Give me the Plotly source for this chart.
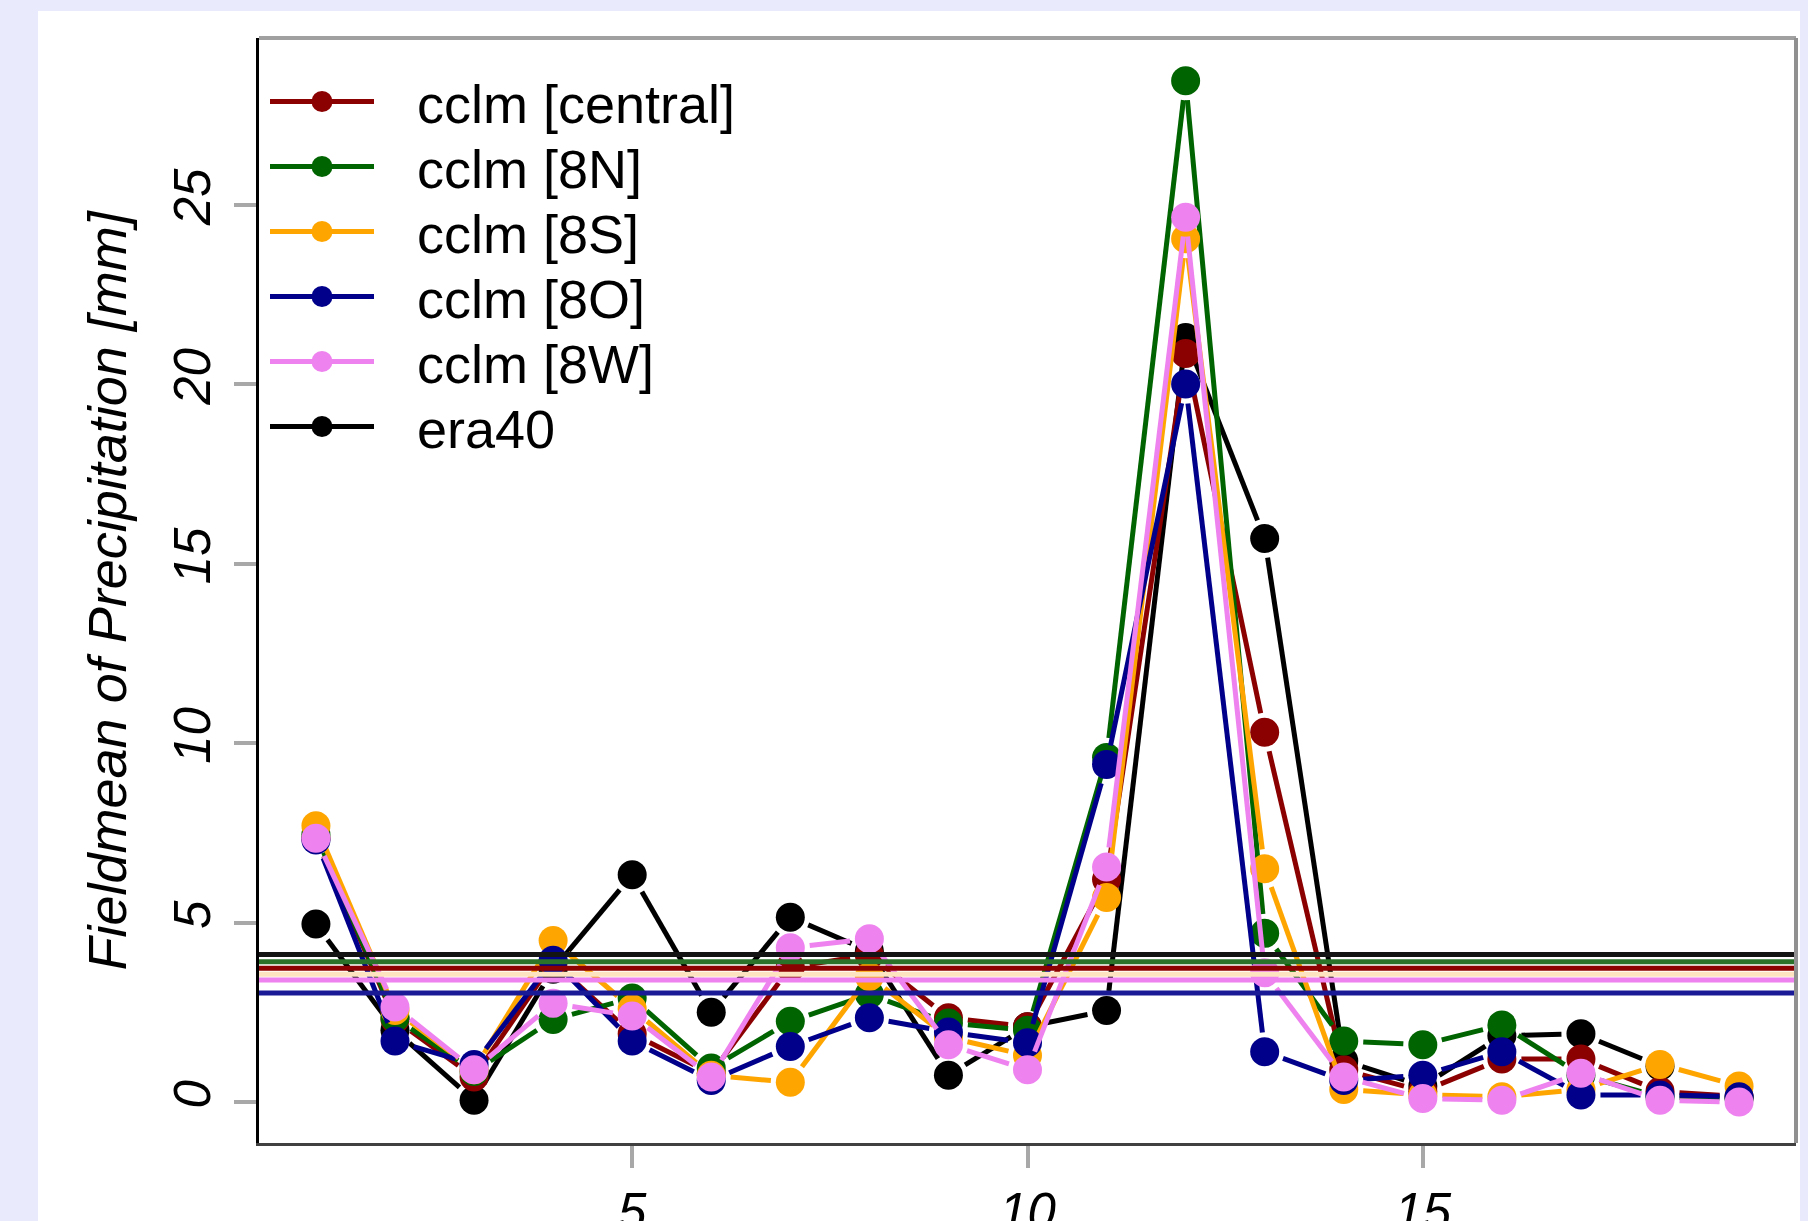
import math
import plotly.graph_objects as go

# ---------------- data ----------------
days = list(range(1, 20))
cclm_central = [7.35, 2.3, 0.7, 3.9, 1.9, 0.8, 3.75, 4.1, 2.35, 2.1, 6.2, 20.85, 10.3, 0.9, 0.3, 1.2, 1.2, 0.3, 0.15]
cclm_8N = [7.45, 2.35, 0.85, 2.3, 2.9, 0.95, 2.25, 3.0, 2.2, 2.0, 9.6, 28.45, 4.7, 1.7, 1.6, 2.15, 0.75, 0.15, 0.1]
cclm_8S = [7.7, 2.55, 0.9, 4.5, 2.6, 0.75, 0.55, 3.5, 1.8, 1.3, 5.7, 24.05, 6.5, 0.35, 0.2, 0.15, 0.35, 1.05, 0.45]
cclm_8O = [7.3, 1.7, 1.05, 3.95, 1.7, 0.6, 1.55, 2.35, 1.95, 1.65, 9.4, 20.0, 1.4, 0.6, 0.75, 1.4, 0.2, 0.2, 0.15]
cclm_8W = [7.35, 2.65, 0.9, 2.75, 2.4, 0.7, 4.3, 4.55, 1.6, 0.9, 6.55, 24.65, 3.6, 0.7, 0.1, 0.05, 0.8, 0.05, 0.0]
era40 = [4.96, 2.0, 0.05, 3.7, 6.33, 2.5, 5.15, 4.2, 0.75, 2.1, 2.55, 21.3, 15.7, 1.15, 0.45, 1.85, 1.9, 1.0]

series_names = ["cclm [central]", "cclm [8N]", "cclm [8S]", "cclm [8O]", "cclm [8W]", "era40"]
series_values = [cclm_central, cclm_8N, cclm_8S, cclm_8O, cclm_8W, era40]
series_colors = ["#8B0000", "#006400", "#FFA500", "#00008B", "#EE82EE", "#000000"]
mean_values = [3.73, 3.91, 3.56, 3.04, 3.40, 4.11]
mean_colors = ["#8B0000", "#2a722a", "#FDE3C0", "#1a1a96", "#EE82EE", "#141414"]

x_ticks = [5, 10, 15]
y_ticks = [0, 5, 10, 15, 20, 25]
y_title = "Fieldmean of Precipitation [mm]"

# ---------------- layout geometry ----------------
OFF = 8  # page body margin offset
BG = "#E9EBFC"
W, H = 1808, 1221
ML, MT = 259 - OFF, 38 - OFF
MR = W - (1796 - OFF)
MB = H - (1143 - OFF)
PW, PH = W - ML - MR, H - MT - MB
XR = [0.28, 19.72]
YR = [-1.14, 29.64]
SX = PW / (XR[1] - XR[0])
SY = PH / (YR[1] - YR[0])
GAP = 19.5  # px gap around points (R type="b")
FONT = "Liberation Sans, Arial, sans-serif"


def gapped(xs, ys, d):
    gx, gy = [], []
    for i in range(len(ys) - 1):
        x1, y1, x2, y2 = xs[i], ys[i], xs[i + 1], ys[i + 1]
        L = math.hypot((x2 - x1) * SX, (y2 - y1) * SY)
        if L <= 2 * d:
            continue
        t = d / L
        gx += [x1 + t * (x2 - x1), x2 - t * (x2 - x1), None]
        gy += [y1 + t * (y2 - y1), y2 - t * (y2 - y1), None]
    return gx, gy


fig = go.Figure()

# draw order: era40 first, then the cclm runs
order = [5, 0, 1, 2, 3, 4]
for k in order:
    vals = series_values[k]
    xs = days[:len(vals)]
    gx, gy = gapped(xs, vals, GAP)
    fig.add_trace(go.Scatter(x=gx, y=gy, mode="lines",
                             line=dict(color=series_colors[k], width=5),
                             showlegend=False, hoverinfo="skip"))
    fig.add_trace(go.Scatter(x=xs, y=vals, mode="markers",
                             marker=dict(color=series_colors[k], size=29, line=dict(width=0)),
                             name=series_names[k], showlegend=False))

# mean lines (abline h=...)
shapes = []
for k in [2, 0, 1, 3, 4, 5]:
    shapes.append(dict(type="line", xref="paper", yref="y", x0=0, x1=1,
                       y0=mean_values[k], y1=mean_values[k],
                       line=dict(color=mean_colors[k], width=5), layer="above"))

# white figure region and frame
shapes.append(dict(type="rect", xref="paper", yref="paper",
                   x0=(38 - OFF - ML) / PW, x1=1.05, y0=-0.2,
                   y1=((H - MB) - (11 - OFF)) / PH,
                   fillcolor="white", line=dict(width=0), layer="below"))
shapes.append(dict(type="line", xref="paper", yref="paper", x0=0, x1=1, y0=1, y1=1,
                   line=dict(color="#a0a0a0", width=4), layer="above"))
shapes.append(dict(type="line", xref="paper", yref="paper", x0=1, x1=1, y0=0, y1=1,
                   line=dict(color="#909090", width=4), layer="above"))

# ---------------- manual legend (R style) on a pixel overlay axis ----------------
leg_x0, leg_x1, leg_mx, leg_tx = 270 - 259, 374 - 259, 322 - 259, 415 - 259
leg_y0, leg_dy = 101.5 - 38, 65.0
annotations = []
for i in range(6):
    yy = leg_y0 + i * leg_dy
    fig.add_trace(go.Scatter(x=[leg_x0, leg_x1], y=[yy, yy], mode="lines",
                             xaxis="x2", yaxis="y2",
                             line=dict(color=series_colors[i], width=5),
                             showlegend=False, hoverinfo="skip"))
    fig.add_trace(go.Scatter(x=[leg_mx], y=[yy], mode="markers",
                             xaxis="x2", yaxis="y2",
                             marker=dict(color=series_colors[i], size=21),
                             showlegend=False, hoverinfo="skip"))
    annotations.append(dict(xref="x2", yref="y2", x=leg_tx, y=yy + 2, text=series_names[i],
                            showarrow=False, xanchor="left", yanchor="middle",
                            font=dict(family=FONT, size=54, color="black")))

annotations.append(dict(xref="paper", yref="paper", x=(106 - 259) / PW, y=0.5,
                        text=y_title, textangle=-90, showarrow=False,
                        xanchor="center", yanchor="middle",
                        font=dict(family=FONT, size=54, color="black", style="italic")))

fig.update_layout(
    width=W, height=H,
    margin=dict(l=ML, r=MR, t=MT, b=MB, pad=0, autoexpand=False),
    paper_bgcolor=BG,
    plot_bgcolor="white",
    showlegend=False,
    shapes=shapes,
    annotations=annotations,
    xaxis=dict(range=XR, tickmode="array", tickvals=x_ticks, ticktext=[str(v) for v in x_ticks],
               ticks="outside", ticklen=22, tickwidth=4, tickcolor="#a8a8a8",
               showline=True, linecolor="#404040", linewidth=3, automargin=False,
               showgrid=False, zeroline=False, ticklabelstandoff=0,
               tickfont=dict(family=FONT, size=51, color="black", style="italic")),
    yaxis=dict(range=YR, tickmode="array", tickvals=y_ticks, ticktext=[str(v) for v in y_ticks],
               ticks="outside", ticklen=22, tickwidth=4, tickcolor="#a8a8a8",
               showline=True, linecolor="black", linewidth=3, automargin=False,
               showgrid=False, zeroline=False, tickangle=-90, ticklabelstandoff=4,
               tickfont=dict(family=FONT, size=51, color="black", style="italic")),
    xaxis2=dict(range=[0, PW], overlaying="x", visible=False, fixedrange=True),
    yaxis2=dict(range=[PH, 0], overlaying="y", visible=False, fixedrange=True),
)

fig.write_html("out.html", post_script="document.body.style.backgroundColor='%s';" % BG)
